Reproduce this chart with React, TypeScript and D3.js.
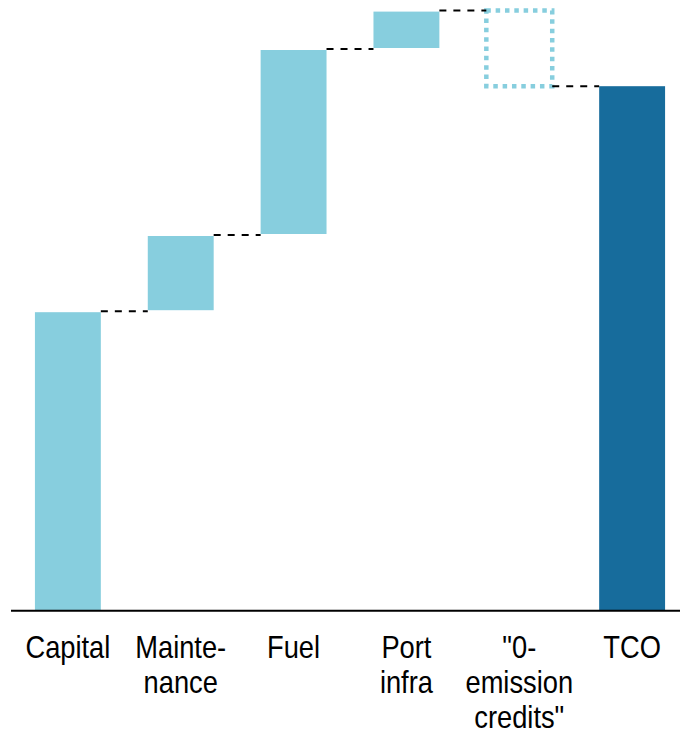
import React, { useEffect } from "react";
import * as d3 from "d3";

const categories: string[][] = [
  ["Capital"],
  ["Mainte-", "nance"],
  ["Fuel"],
  ["Port", "infra"],
  ['"0-', "emission", 'credits"'],
  ["TCO"],
];
const values: number[] = [49.8, 12.7, 31.0, 6.4, -12.6, 87.3];
const kinds: string[] = ["base", "step", "step", "step", "credit", "total"];

const W = 680;
const H = 735;
const LIGHT = "#87CEDE";
const DARK = "#176C9C";

export default function App() {
  useEffect(() => {
    document.body.style.margin = "0";
  }, []);

  const x = d3
    .scaleBand<number>()
    .domain(d3.range(categories.length))
    .range([11, 689])
    .paddingInner(0.416)
    .paddingOuter(0.212);
  const y = d3.scaleLinear().domain([0, 100]).range([610, 10]);

  let cum = 0;
  const segs = values.map((v, i) => {
    if (kinds[i] === "total") {
      return { i, start: 0, end: v };
    }
    const start = cum;
    cum += v;
    return { i, start, end: cum };
  });

  const bw = x.bandwidth();

  return (
    <svg width={W} height={H} style={{ display: "block" }}>
      <rect width={W} height={H} fill="#fff" />
      {segs.map((s) => {
        const x0 = x(s.i)!;
        const kind = kinds[s.i];
        const top = Math.min(y(s.start), y(s.end));
        const bot = Math.max(y(s.start), y(s.end));
        if (kind === "credit") {
          return (
            <rect
              key={s.i}
              x={x0}
              y={top}
              width={bw}
              height={bot - top}
              fill="none"
              stroke={LIGHT}
              strokeWidth={4.5}
              strokeDasharray="4.5 4.83"
            />
          );
        }
        const t = kind === "total" ? top : top + 1;
        const b = kind === "step" ? bot - 1 : bot;
        return (
          <rect
            key={s.i}
            x={x0}
            y={t}
            width={bw}
            height={b - t}
            fill={kind === "total" ? DARK : LIGHT}
          />
        );
      })}
      {segs.slice(0, -1).map((s) => {
        const lvl = y(s.end);
        const xa = x(s.i)! + bw;
        const xb = x(s.i + 1)!;
        return (
          <line
            key={"d" + s.i}
            x1={xa}
            x2={xb}
            y1={lvl}
            y2={lvl}
            stroke="#000"
            strokeWidth={2}
            strokeDasharray="7 7"
          />
        );
      })}
      <line x1={11} x2={W} y1={610.7} y2={610.7} stroke="#000" strokeWidth={2} />
      {categories.map((lines, i) => (
        <text
          key={"l" + i}
          transform={`translate(${x(i)! + bw / 2},658) scale(0.88,1)`}
          textAnchor="middle"
          fontFamily="'Liberation Sans', Arial, sans-serif"
          fontSize={31}
          fill="#000"
        >
          {lines.map((ln, j) => (
            <tspan key={j} x={0} y={j * 35}>
              {ln}
            </tspan>
          ))}
        </text>
      ))}
    </svg>
  );
}
